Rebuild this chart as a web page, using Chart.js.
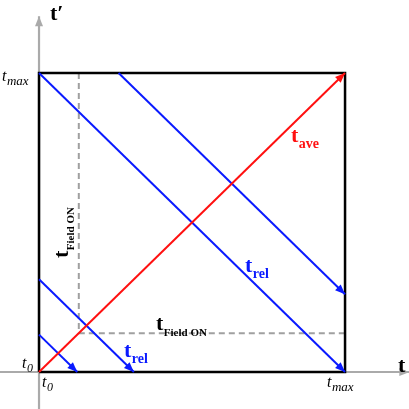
<!DOCTYPE html>
<html><head><meta charset="utf-8">
<script src="https://cdn.jsdelivr.net/npm/chart.js@4/dist/chart.umd.min.js"></script>
<style>html,body{margin:0;padding:0;background:#fff}#w{width:409px;height:409px}</style>
</head><body><div id="w"><canvas id="c"></canvas></div>
<script>
const squareX=[0,1,1,0,0], squareY=[0,0,1,1,0];
const aveX=[0,1], aveY=[0,1];
const rel1X=[0,1], rel1Y=[1,0];
const rel2X=[0.26,1], rel2Y=[1,0.26];
const rel3X=[0,0.31], rel3Y=[0.31,0];
const rel4X=[0,0.125], rel4Y=[0.125,0];
const fieldOn=0.13;
const axisX=[-0.13,1.21], axisY=[-0.124,1.19];
const pts=(xs,ys)=>xs.map((x,i)=>({x,y:ys[i]}));
const ds=(data,color,w,extra)=>Object.assign({data,borderColor:color,borderWidth:w,showLine:true,pointRadius:0,fill:false,tension:0},extra||{});
const blue='#0a1aff', red='#ff1010', gray='#aaaaaa';
const datasets=[
 ds(pts(aveX,aveY),red,2,{arrow:true,head:10}),
 ds(pts(rel1X,rel1Y),blue,2,{arrow:true,head:10}),
 ds(pts(rel2X,rel2Y),blue,2,{arrow:true,head:10}),
 ds(pts(rel3X,rel3Y),blue,2,{arrow:true,head:10}),
 ds(pts(rel4X,rel4Y),blue,2,{arrow:true,head:10}),
 ds(pts(squareX,squareY),'#000',2.5),
 ds(pts([fieldOn,fieldOn],[1,fieldOn]),'#a0a0a0',2,{borderDash:[6,4]}),
 ds(pts([fieldOn,1],[fieldOn,fieldOn]),'#a0a0a0',2,{borderDash:[6,4]}),
 ds(pts([axisX[0],axisX[1]],[0,0]),gray,2.2,{arrow:true,head:10}),
 ds(pts([0,0],[axisY[0],axisY[1]]),gray,2.2,{arrow:true,head:10}),
];
function sub(ctx,x,y,main,s,color,size,bold,italic,subSize){
 ctx.fillStyle=color;
 ctx.font=(italic?'italic ':'')+(bold?'bold ':'')+size+'px "Liberation Serif"';
 ctx.fillText(main,x,y);
 const w=ctx.measureText(main).width;
 ctx.font=(italic?'italic ':'')+(bold?'bold ':'')+(subSize||Math.round(size*0.65))+'px "Liberation Serif"';
 ctx.fillText(s,x+w+0.5,y+size*0.25);
}
const plug={id:'deco',afterDatasetsDraw(chart){
 const ctx=chart.ctx,xs=chart.scales.x,ys=chart.scales.y;
 chart.data.datasets.forEach(d=>{
  if(!d.arrow)return;
  const n=d.data.length,a=d.data[n-2],b=d.data[n-1];
  const x1=xs.getPixelForValue(a.x),y1=ys.getPixelForValue(a.y),x2=xs.getPixelForValue(b.x),y2=ys.getPixelForValue(b.y);
  const ang=Math.atan2(y2-y1,x2-x1),h=d.head;
  ctx.save();ctx.fillStyle=d.borderColor;ctx.beginPath();
  ctx.moveTo(x2,y2);
  ctx.lineTo(x2-h*Math.cos(ang)+h*0.4*Math.sin(ang),y2-h*Math.sin(ang)-h*0.4*Math.cos(ang));
  ctx.lineTo(x2-h*Math.cos(ang)-h*0.4*Math.sin(ang),y2-h*Math.sin(ang)+h*0.4*Math.cos(ang));
  ctx.closePath();ctx.fill();ctx.restore();
 });
 ctx.save();ctx.textBaseline='alphabetic';
 ctx.fillStyle='#000';ctx.font='bold 22px "Liberation Serif"';ctx.fillText("t′",50,20);
 ctx.fillText("t",398,372);
 sub(ctx,2,81,'t','max','#000',16,false,true,13);
 sub(ctx,22,368,'t','0','#000',16,false,true,12);
 sub(ctx,42,387,'t','0','#000',16,false,true,12);
 sub(ctx,327,387,'t','max','#000',16,false,true,13);
 sub(ctx,291,142,'t','ave',red,22,true,false,14);
 sub(ctx,245,272,'t','rel',blue,22,true,false,14);
 sub(ctx,124,357,'t','rel',blue,22,true,false,14);
 sub(ctx,156,330,'t','Field ON','#000',22,true,false,11);
 ctx.translate(68,258);ctx.rotate(-Math.PI/2);
 sub(ctx,0,0,'t','Field ON','#000',22,true,false,11);
 ctx.restore();
}};
new Chart(document.getElementById('c'),{type:'scatter',data:{datasets},plugins:[plug],
options:{responsive:true,maintainAspectRatio:false,animation:false,layout:{padding:0},
 plugins:{legend:{display:false},tooltip:{enabled:false}},
 elements:{line:{borderCapStyle:'butt'}},
 scales:{x:{type:'linear',display:false,min:-0.1275,max:1.209},y:{type:'linear',display:false,min:-0.1237,max:1.244}}}});
</script></body></html>
